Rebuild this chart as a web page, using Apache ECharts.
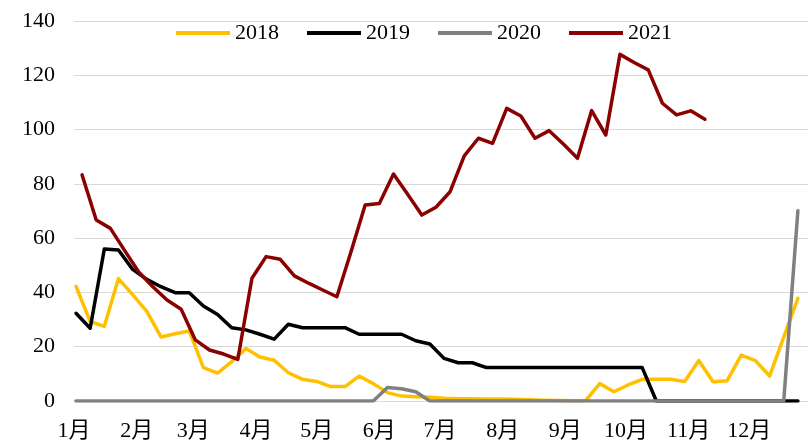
<!DOCTYPE html>
<html>
<head>
<meta charset="utf-8">
<script src="https://cdn.jsdelivr.net/npm/echarts@6/dist/echarts.min.js"></script>
<style>
  html, body { margin: 0; padding: 0; background: #ffffff; }
  #chart { width: 808px; height: 444px; }
</style>
</head>
<body>
<div id="chart"></div>
<script>
// Month tick labels on a day-of-year axis
const monthLabels = ['1月', '2月', '3月', '4月', '5月', '6月', '7月', '8月', '9月', '10月', '11月', '12月'];
const monthStartDays = [0, 31, 59, 90, 120, 151, 181, 212, 243, 273, 304, 334];

// Weekly readings, one array per year; first reading's day of year per year
const firstDay2018 = 1;
const firstDay2019 = 1;
const firstDay2020 = 1;
const firstDay2021 = 4;

const values2018 = [42.2, 29.3, 27.5, 45.1, 39.2, 33.0, 23.6, 24.8, 25.8, 12.3, 10.3, 14.5, 19.3, 16.2, 15.0, 10.4,
  8.0, 7.2, 5.3, 5.3, 9.2, 6.4, 3.1, 1.8, 1.6, 1.4, 1.0, 0.8, 0.8, 0.7, 0.7, 0.6, 0.5, 0.3, 0.2, 0.1, 0.1,
  6.4, 3.4, 5.9, 8.0, 8.0, 8.0, 7.2, 14.9, 7.1, 7.5, 16.9, 14.9, 9.2, 23.5, 37.8];

const values2019 = [32.3, 26.8, 56.0, 55.6, 48.5, 44.8, 42.1, 39.9, 39.9, 35.0, 31.9, 27.0, 26.2, 24.6, 22.8, 28.3,
  27.0, 27.0, 27.0, 27.0, 24.6, 24.6, 24.6, 24.6, 22.2, 21.0, 15.7, 14.1, 14.1, 12.3,
  12.3, 12.3, 12.3, 12.3, 12.3, 12.3, 12.3, 12.3, 12.3, 12.3, 12.3,
  0, 0, 0, 0, 0, 0, 0, 0, 0, 0, 0];

const values2020 = [0, 0, 0, 0, 0, 0, 0, 0, 0, 0, 0, 0, 0, 0, 0, 0, 0, 0, 0, 0, 0, 0,
  5.0, 4.5, 3.4,
  0, 0, 0, 0, 0, 0, 0, 0, 0, 0, 0, 0, 0, 0, 0, 0, 0, 0, 0, 0, 0, 0, 0, 0, 0, 0,
  70.1];

const values2021 = [83.3, 66.7, 63.6, 55.5, 47.5, 42.1, 37.2, 33.8, 22.5, 18.8, 17.3, 15.3,
  45.2, 53.2, 52.2, 46.1, 43.4, 40.9, 38.4, 55.0,
  72.2, 72.8, 83.6, 76.2, 68.5, 71.4, 77.1,
  90.3, 96.8, 94.9, 107.8, 105.0, 96.8, 99.6, 94.7, 89.4, 107.0, 98.0,
  127.7, 124.7, 122.0, 109.7, 105.4, 106.9, 103.8];

const seriesNames = ['2018', '2019', '2020', '2021'];
const seriesColors = ['#FFC000', '#000000', '#808080', '#8B0000'];

// Pair each weekly value with its day of year
function weekly(firstDay, values) {
  return values.map((v, i) => [firstDay + 7 * i, v]);
}

const seriesData = [
  weekly(firstDay2018, values2018),
  weekly(firstDay2019, values2019),
  weekly(firstDay2020, values2020),
  weekly(firstDay2021, values2021)
];

const fontFamily = '"Liberation Serif", "Times New Roman", "Noto Sans CJK SC", serif';

const chart = echarts.init(document.getElementById('chart'), null, { renderer: 'canvas' });

chart.setOption({
  animation: false,
  backgroundColor: '#ffffff',
  textStyle: { fontFamily: fontFamily, color: '#000000' },
  grid: { left: 74, right: 0, top: 21, bottom: 43 },
  legend: {
    data: seriesNames,
    left: 176,
    top: 22,
    padding: 0,
    icon: 'rect',
    itemWidth: 54,
    itemHeight: 4,
    itemGap: 28,
    textStyle: { fontFamily: fontFamily, fontSize: 22, color: '#000000' }
  },
  xAxis: {
    type: 'value',
    min: 0,
    max: 363,
    axisLine: { show: false },
    axisTick: { show: false },
    splitLine: { show: false },
    axisLabel: {
      customValues: monthStartDays,
      formatter: (v) => monthLabels[monthStartDays.indexOf(v)],
      fontFamily: fontFamily,
      fontSize: 22,
      color: '#000000',
      margin: 19
    }
  },
  yAxis: {
    type: 'value',
    min: 0,
    max: 140,
    interval: 20,
    axisLine: { show: false },
    axisTick: { show: false },
    splitLine: { lineStyle: { color: '#d9d9d9', width: 1 } },
    axisLabel: {
      fontFamily: fontFamily,
      fontSize: 22,
      color: '#000000',
      margin: 19
    }
  },
  series: seriesNames.map((name, k) => ({
    name: name,
    type: 'line',
    data: seriesData[k],
    symbol: 'none',
    color: seriesColors[k],
    lineStyle: { color: seriesColors[k], width: 3.5, cap: 'round', join: 'round' },
    z: 2 + k
  }))
});
</script>
</body>
</html>
